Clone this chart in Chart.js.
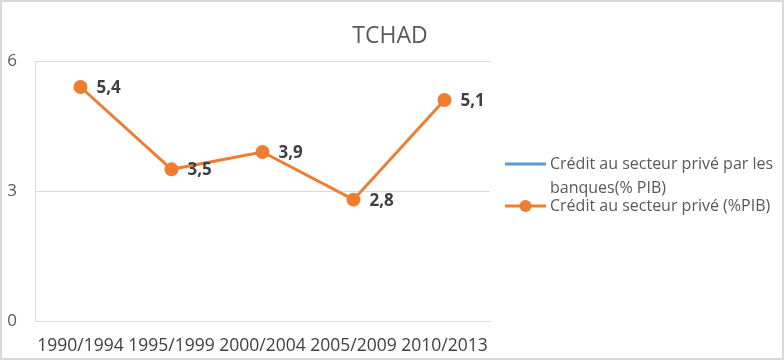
<!DOCTYPE html>
<html>
<head>
<meta charset="utf-8">
<script src="https://cdn.jsdelivr.net/npm/chart.js@4.4.1/dist/chart.umd.min.js"></script>
<style>
  body { margin: 0; background: #fff; }
  #conteneur { width: 784px; height: 360px; position: relative; }
</style>
</head>
<body>
<div id="conteneur"><canvas id="graphique"></canvas></div>
<script>
const periodes = ["1990/1994", "1995/1999", "2000/2004", "2005/2009", "2010/2013"];
const creditBanques = [null, null, null, null, null];
const creditPrive = [5.4, 3.5, 3.9, 2.8, 5.1];
const ticksY = [0, 3, 6];
const titre = "TCHAD";
const libelleBanques = ["Crédit au secteur privé par les", "banques(% PIB)"];
const libellePrive = ["Crédit au secteur privé (%PIB)"];

const police = "'Open Sans', sans-serif";

// cadre gris + titre centré sur toute la largeur
const pluginCadre = {
  id: "cadre",
  afterDraw(chart) {
    const ctx = chart.ctx;
    ctx.save();
    ctx.strokeStyle = "#d9d9d9";
    ctx.lineWidth = 2;
    ctx.strokeRect(1, 1, chart.width - 2, chart.height - 2);
    ctx.font = "23px " + police;
    ctx.fillStyle = "#595959";
    ctx.textAlign = "center";
    ctx.textBaseline = "middle";
    ctx.fillText(titre, 390, 36);
    ctx.restore();
  }
};

// étiquettes de valeur à droite des points
const pluginEtiquettes = {
  id: "etiquettes",
  afterDatasetsDraw(chart) {
    const ctx = chart.ctx;
    const meta = chart.getDatasetMeta(1);
    ctx.save();
    ctx.font = "bold 17px " + police;
    ctx.fillStyle = "#404040";
    ctx.textAlign = "left";
    ctx.textBaseline = "middle";
    meta.data.forEach((point, i) => {
      const valeur = creditPrive[i].toFixed(1).replace(".", ",");
      ctx.fillText(valeur, point.x + 16, point.y + 1);
    });
    ctx.restore();
  }
};

// légende à droite, texte sur plusieurs lignes
const pluginLegende = {
  id: "legende",
  afterDraw(chart) {
    const ctx = chart.ctx;
    const entrees = [
      { lignes: libelleBanques, couleur: "#5B9BD5", point: false, y: 164 },
      { lignes: libellePrive, couleur: "#ED7D31", point: true, y: 206 }
    ];
    ctx.save();
    ctx.font = "16px " + police;
    ctx.textBaseline = "middle";
    entrees.forEach(e => {
      ctx.strokeStyle = e.couleur;
      ctx.lineWidth = 3;
      ctx.beginPath();
      ctx.moveTo(505, e.y);
      ctx.lineTo(546, e.y);
      ctx.stroke();
      if (e.point) {
        ctx.fillStyle = e.couleur;
        ctx.beginPath();
        ctx.arc(525.5, e.y, 6, 0, Math.PI * 2);
        ctx.fill();
      }
      ctx.fillStyle = "#595959";
      e.lignes.forEach((ligne, j) => {
        ctx.fillText(ligne, 550, e.y + j * 24);
      });
    });
    ctx.restore();
  }
};

new Chart(document.getElementById("graphique"), {
  type: "line",
  data: {
    labels: periodes,
    datasets: [
      {
        label: libelleBanques.join(" "),
        data: creditBanques,
        borderColor: "#5B9BD5",
        backgroundColor: "#5B9BD5",
        borderWidth: 3,
        pointRadius: 0
      },
      {
        label: libellePrive.join(" "),
        data: creditPrive,
        borderColor: "#ED7D31",
        backgroundColor: "#ED7D31",
        borderWidth: 3,
        pointRadius: 7,
        pointBorderWidth: 0,
        pointHoverRadius: 7,
        tension: 0
      }
    ]
  },
  options: {
    responsive: true,
    maintainAspectRatio: false,
    animation: false,
    layout: { padding: { top: 61, right: 294, bottom: 0, left: 0 } },
    plugins: {
      legend: { display: false },
      tooltip: { enabled: false },
      title: { display: false }
    },
    scales: {
      x: {
        offset: true,
        grid: { display: false, drawTicks: false },
        border: { color: "#d9d9d9", width: 1 },
        ticks: {
          color: "#404040",
          font: { family: police, size: 17.5 },
          padding: 15,
          maxRotation: 0,
          autoSkip: false
        },
        afterFit(scale) { scale.height = 39; }
      },
      y: {
        min: 0,
        max: 6,
        afterBuildTicks(scale) { scale.ticks = ticksY.map(v => ({ value: v })); },
        grid: { color: "#d9d9d9", drawTicks: false },
        border: { color: "#d9d9d9", width: 1 },
        ticks: {
          color: "#595959",
          font: { family: police, size: 17 },
          padding: 18
        },
        afterFit(scale) { scale.width = 35; }
      }
    }
  },
  plugins: [pluginCadre, pluginEtiquettes, pluginLegende]
});
</script>
</body>
</html>
